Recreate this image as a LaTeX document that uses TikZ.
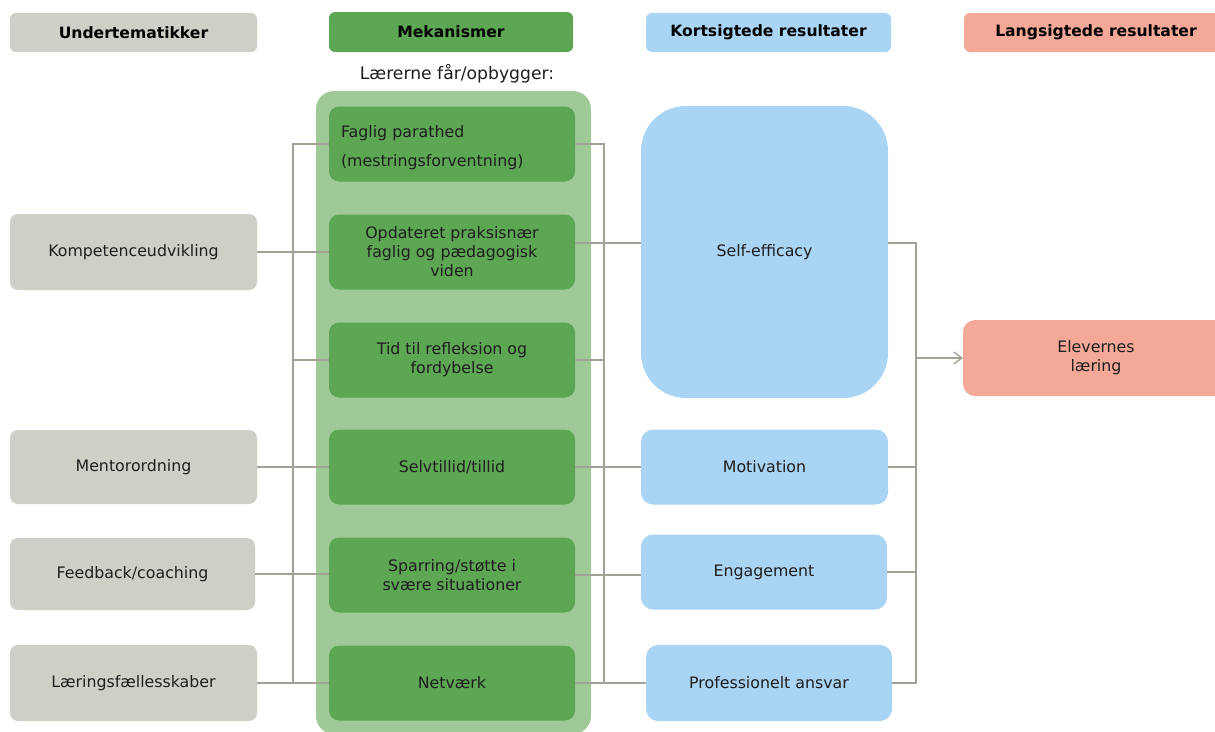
\documentclass[tikz,border=0pt]{standalone}
\usepackage{fontspec}
\setmainfont{DejaVu Sans}
\usetikzlibrary{arrows.meta}

\definecolor{greybox}{HTML}{D0CFC7}
\definecolor{mechgreen}{HTML}{5DA653}
\definecolor{mechbg}{HTML}{9FCA97}
\definecolor{shortblue}{HTML}{A9D4F4}
\definecolor{longred}{HTML}{F3A898}
\definecolor{linegrey}{HTML}{A3A296}
\definecolor{inktext}{HTML}{1E1E1E}

\begin{document}
\begin{tikzpicture}[x=1pt,y=-1pt,
  base/.style={inner sep=0pt, outer sep=0pt, align=center, text=inktext,
    font=\fontsize{15.8}{19}\selectfont},
  header/.style={base, text=black, minimum height=39pt, rounded corners=6pt,
    font=\fontsize{15.6}{19}\selectfont\bfseries},
  topic/.style={base, fill=greybox, minimum width=247pt, minimum height=76pt, rounded corners=8pt},
  mech/.style={base, fill=mechgreen, minimum width=246pt, minimum height=75pt, rounded corners=10pt},
  short/.style={base, fill=shortblue, minimum width=247pt, minimum height=75pt, rounded corners=12pt},
  long/.style={base, fill=longred, minimum width=266pt, minimum height=76pt, rounded corners=12pt},
  conn/.style={draw=linegrey, line width=1.6pt},
]
\useasboundingbox (0,0) rectangle (1215,731);
\clip (0,0) rectangle (1215,731);

% column headers
\node[header, fill=greybox, minimum width=247pt] (h1) at (133.5,32.5) {Undertematikker};
\node[header, fill=mechgreen, minimum width=244pt, minimum height=40pt] (h2) at (451,32) {Mekanismer};
\node[header, fill=shortblue, minimum width=245pt] (h3) at (768.5,32.5) {Kortsigtede resultater};
\node[header, fill=longred, minimum width=264pt] (h4) at (1096,32.5) {Langsigtede resultater};

\node[base, font=\fontsize{17.2}{19}\selectfont] (intro) at (457,74) {Lærerne får/opbygger:};

% band behind the mechanisms
\node[base, fill=mechbg, minimum width=275pt, minimum height=643pt, rounded corners=18pt] (band) at (453.5,412.5) {};

% sub-themes
\node[topic] (komp) at (133.5,252) {Kompetenceudvikling};
\node[topic, minimum height=74pt] (mentor) at (133.5,467) {Mentorordning};
\node[topic, minimum width=245pt, minimum height=72pt] (feedback) at (132.5,574) {Feedback/coaching};
\node[topic] (laering) at (133.5,683) {Læringsfællesskaber};

% mechanisms
\node[mech, text width=222pt, align=left] (faglig) at (452,144) {\rule{0pt}{20pt}Faglig parathed\\[10pt](mestringsforventning)};
\node[mech] (opdat) at (452,252) {Opdateret praksisnær\\faglig og pædagogisk\\viden};
\node[mech] (tid) at (452,360) {Tid til refleksion og\\fordybelse};
\node[mech] (selvt) at (452,467) {Selvtillid/tillid};
\node[mech] (sparring) at (452,575) {Sparring/støtte i\\svære situationer};
\node[mech] (netv) at (452,683) {Netværk};

% short-term results
\node[short, minimum height=292pt, rounded corners=45pt] (self) at (764.5,252) {Self-efficacy};
\node[short] (motiv) at (764.5,467) {Motivation};
\node[short, minimum width=246pt] (engag) at (764,572) {Engagement};
\node[short, minimum width=246pt, minimum height=76pt] (prof) at (769,683) {Professionelt ansvar};

% long-term result
\node[long] (elev) at (1096,358) {Elevernes\\læring};

% left bus: sub-themes to mechanisms
\coordinate (lb) at ([xshift=-36pt]faglig.west);
\draw[conn] (faglig.west) -- (lb) -- (lb |- netv.west);
\draw[conn] (tid.west) -- (tid.west -| lb);
\draw[conn] (komp.east) -- (opdat.west);
\draw[conn] (mentor.east) -- (mentor.east -| selvt.west);
\draw[conn] (feedback.east) -- (feedback.east -| sparring.west);
\draw[conn] (laering.east) -- (laering.east -| netv.west);

% right bus: mechanisms to short-term results
\coordinate (rb) at ([xshift=29pt]faglig.east);
\draw[conn] (faglig.east) -- (rb) -- (rb |- netv.east);
\draw[conn] (tid.east) -- (tid.east -| rb);
\draw[conn] ([yshift=9pt]opdat.east) -- ([yshift=9pt]opdat.east -| self.west);
\draw[conn] (selvt.east) -- (selvt.east -| motiv.west);
\draw[conn] (sparring.east) -- (sparring.east -| engag.west);
\draw[conn] (netv.east) -- (netv.east -| prof.west);

% outer bus: short-term to long-term
\coordinate (ob) at ([xshift=28pt,yshift=9pt]self.east);
\draw[conn] ([yshift=9pt]self.east) -- (ob) -- (ob |- prof.east) -- (prof.east);
\draw[conn] (motiv.east) -- (motiv.east -| ob);
\draw[conn] (engag.east) -- (engag.east -| ob);
\draw[conn, -{Straight Barb[length=8pt,width=12pt,line width=1.4pt]}] (elev.west -| ob) -- (elev.west);
\end{tikzpicture}
\end{document}
